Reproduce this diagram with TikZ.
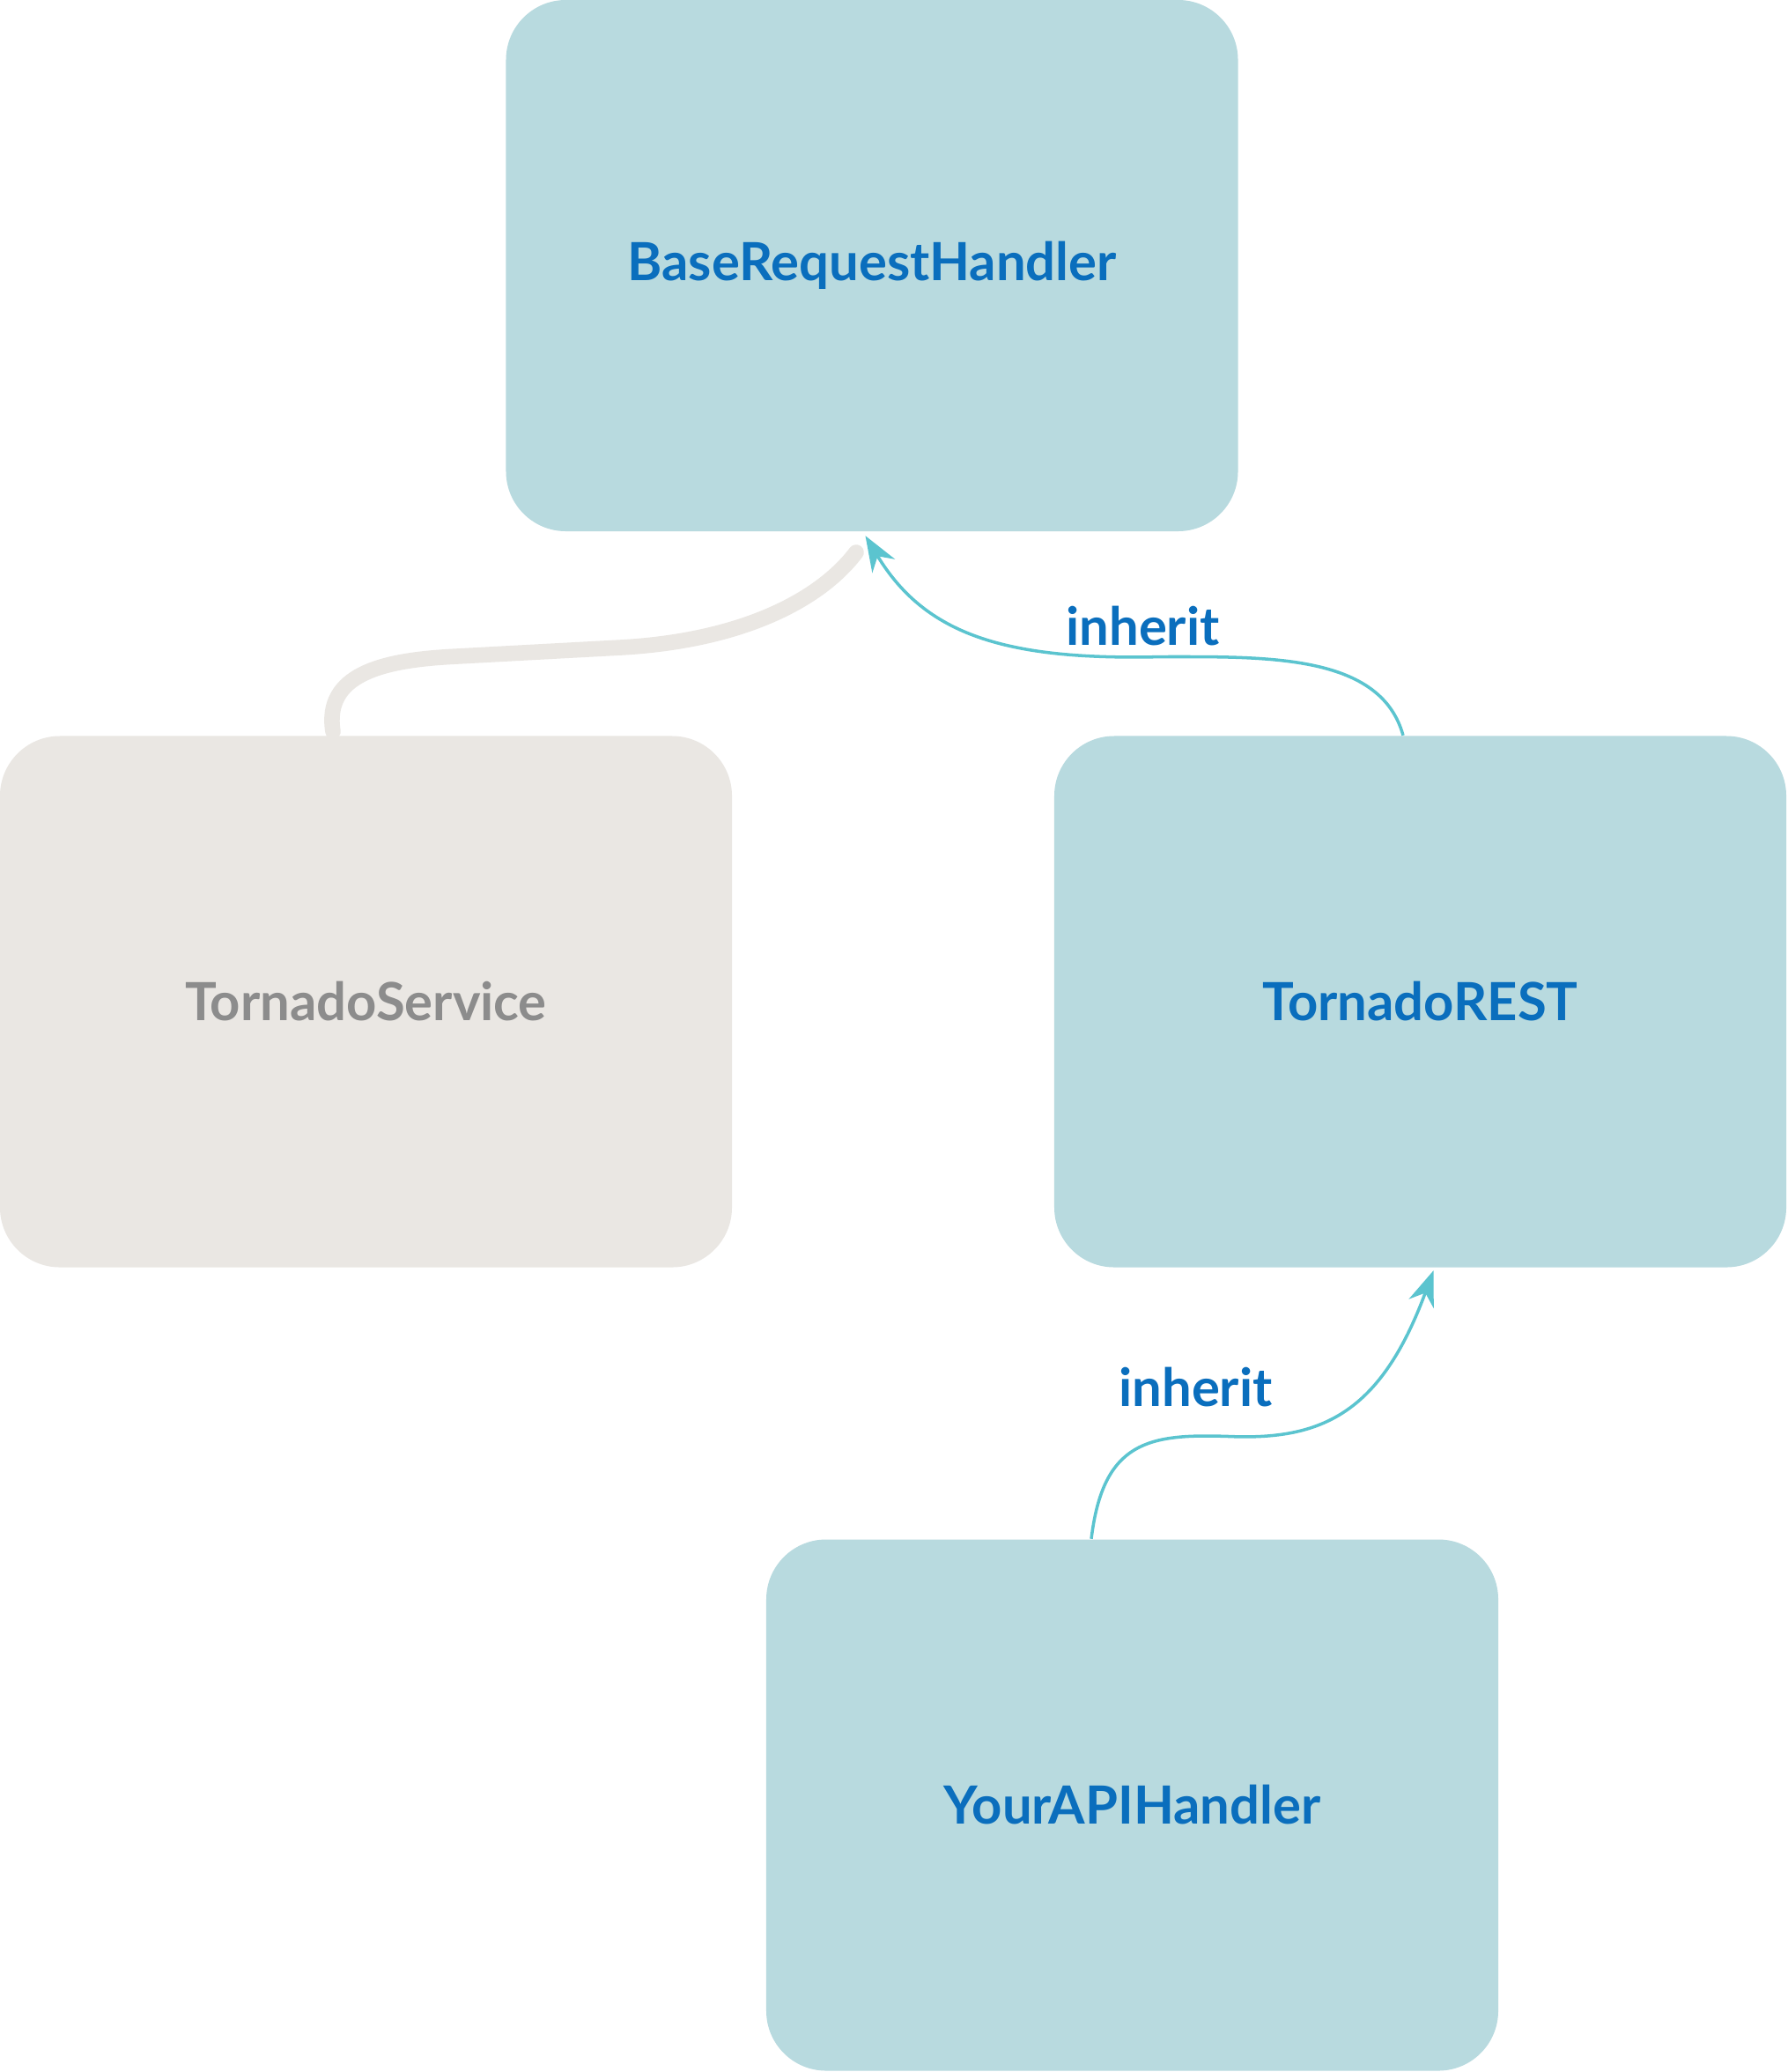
\documentclass[tikz,border=0pt]{standalone}
\usepackage{fontspec}
\setmainfont{Lato}
\usetikzlibrary{positioning,arrows.meta,calc}
\definecolor{boxblue}{HTML}{B8DADF}
\definecolor{boxgray}{HTML}{EAE7E3}
\definecolor{textblue}{HTML}{0A6EBD}
\definecolor{textgray}{HTML}{8C8C8C}
\definecolor{linkblue}{HTML}{5BC4CF}
\tikzset{>={Stealth[width=3mm,length=4mm]}}
\tikzset{
  classbox/.style={fill=boxblue, rounded corners=0.68cm, minimum width=8.31cm,
    minimum height=6.03cm, text=textblue, font=\bfseries\fontsize{17}{20}\selectfont},
  oldbox/.style={classbox, fill=boxgray, text=textgray},
  inheritlink/.style={->, linkblue, line width=1pt},
  linklabel/.style={text=textblue, font=\bfseries\fontsize{17}{20}\selectfont}
}
\begin{document}
\begin{tikzpicture}[x=0.015cm,y=-0.015cm]
	\useasboundingbox[fill=white] (0,0) rectangle (1353,1568);
	\node[classbox] (base) at (660,201) {BaseRequestHandler};
	\node[oldbox] (service) at (277,758) {TornadoService};
	\node[classbox] (rest) at (1075,758) {TornadoREST};
	\node[classbox] (api) at (857,1366) {YourAPIHandler};
	% links
	\draw[boxgray, line width=5pt, line cap=round] ($(service.north)+(-25,-3)$)
		.. controls (245,510) and (290,500) .. (340,497) -- (470,490)
		.. controls (560,485) and (620,455) .. (648,418);
	\draw[inheritlink] ($(rest.north)+(-13,0)$)
		.. controls (1045,495) and (960,497) .. (880,497)
		.. controls (760,500) and (700,480) .. ($(base.south)+(-5,3)$);
	\node[linklabel] (lab1) at (865,474) {inherit};
	\draw[inheritlink] ($(api.north)+(-31,0)$)
		.. controls (835,1090) and (870,1085) .. (930,1087)
		.. controls (1000,1090) and (1045,1070) .. ($(rest.south)+(10,2)$);
	\node[linklabel] (lab2) at (905,1050) {inherit};
\end{tikzpicture}
\end{document}
